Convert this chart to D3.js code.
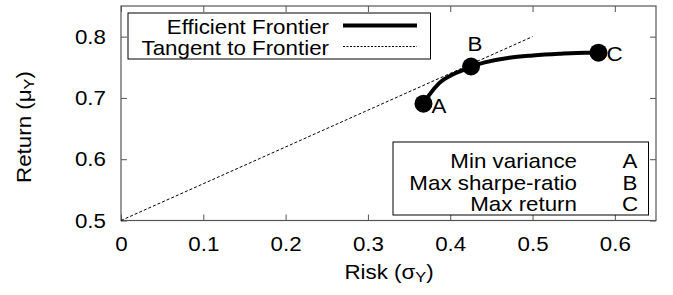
<!DOCTYPE html>
<html>
<head>
<meta charset="utf-8">
<script src="https://cdn.jsdelivr.net/npm/d3@7"></script>
<style>
  body { margin: 0; background: #fff; }
  svg { display: block; font-family: "Liberation Sans", Arial, sans-serif; }
</style>
</head>
<body>
<div id="chart"></div>
<script>
// efficient frontier
const frontierRisk = [0.3675, 0.3748, 0.3869, 0.4030, 0.4193, 0.4253, 0.4435, 0.4718, 0.5001, 0.5324, 0.5648, 0.5801];
const frontierReturn = [0.6907, 0.7054, 0.7246, 0.7382, 0.7475, 0.7513, 0.7584, 0.7656, 0.7693, 0.7721, 0.7738, 0.7738];

// tangent line ends
const tangentRisk = [0, 0.5];
const tangentReturn = [0.5, 0.8];

// marked portfolios
const pointNames = ["A", "B", "C"];
const pointRisk = [0.3675, 0.4253, 0.5801];
const pointReturn = [0.6907, 0.7513, 0.7738];
const pointDesc = ["Min variance", "Max sharpe-ratio", "Max return"];

const xTicks = [0, 0.1, 0.2, 0.3, 0.4, 0.5, 0.6];
const yTicks = [0.5, 0.6, 0.7, 0.8];

const W = 673, H = 295;
const margin = {top: 6, right: 17, bottom: 74.5, left: 121};
const width = W - margin.left - margin.right,
  height = H - margin.top - margin.bottom;
const fs = 20.5;
const sx = 1.09; // the original text is a little wider than it is tall
const frameColor = "#555";

const svg = d3.select("#chart").append("svg")
  .attr("width", W)
  .attr("height", H);

const g = svg.append("g")
  .attr("transform", "translate(" + margin.left + "," + margin.top + ")");

const x = d3.scaleLinear().domain([0, 0.65]).range([0, width]);
const y = d3.scaleLinear().domain([0.5, 0.85]).range([height, 0]);

function label(parent, px, py, str, anchor) {
  return parent.append("text")
    .attr("transform", "translate(" + px + "," + py + ") scale(" + sx + ",1)")
    .attr("text-anchor", anchor || "start")
    .style("font-size", fs + "px")
    .text(str);
}

function styleAxis(sel) {
  sel.select(".domain").remove();
  sel.selectAll(".tick line").attr("stroke", frameColor);
  sel.selectAll(".tick text").attr("fill", "#000").style("font-size", fs + "px");
}

// axes with inward ticks
g.append("g")
  .attr("transform", "translate(0," + height + ")")
  .call(d3.axisBottom(x).tickValues(xTicks).tickFormat(d3.format("~g"))
    .tickSizeInner(-6).tickSizeOuter(0).tickPadding(16))
  .call(styleAxis)
  .call(a => a.selectAll(".tick text").attr("transform", "scale(" + sx + ",1)"));

g.append("g")
  .call(d3.axisLeft(y).tickValues(yTicks).tickFormat(d3.format("~g"))
    .tickSizeInner(-6).tickSizeOuter(0).tickPadding(15))
  .call(styleAxis)
  .call(a => a.selectAll(".tick text")
    .attr("x", -15 / sx)
    .attr("transform", "scale(" + sx + ",1)"));

g.append("g")
  .call(d3.axisTop(x).tickValues(xTicks).tickFormat("")
    .tickSizeInner(-6).tickSizeOuter(0))
  .call(styleAxis);

g.append("g")
  .attr("transform", "translate(" + width + ",0)")
  .call(d3.axisRight(y).tickValues(yTicks).tickFormat("")
    .tickSizeInner(-6).tickSizeOuter(0))
  .call(styleAxis);

// frame
g.append("rect")
  .attr("width", width)
  .attr("height", height)
  .attr("fill", "none")
  .attr("stroke", frameColor)
  .attr("stroke-width", 1.2);

// tangent line
const tangent = tangentRisk.map((r, i) => [r, tangentReturn[i]]);
g.append("path")
  .datum(tangent)
  .attr("fill", "none")
  .attr("stroke", "#000")
  .attr("stroke-width", 1)
  .attr("stroke-dasharray", "3,2")
  .attr("d", d3.line().x(d => x(d[0])).y(d => y(d[1])));

// frontier
const frontier = frontierRisk.map((r, i) => [r, frontierReturn[i]]);
g.append("path")
  .datum(frontier)
  .attr("fill", "none")
  .attr("stroke", "#000")
  .attr("stroke-width", 4)
  .attr("stroke-linejoin", "round")
  .attr("d", d3.line().curve(d3.curveMonotoneX).x(d => x(d[0])).y(d => y(d[1])));

// markers and their letters
const pts = pointNames.map((n, i) => ({name: n, r: pointRisk[i], m: pointReturn[i]}));
g.selectAll(".pt")
  .data(pts)
  .enter().append("circle")
  .attr("cx", d => x(d.r))
  .attr("cy", d => y(d.m))
  .attr("r", 9)
  .attr("fill", "#000");

const labelOff = {A: [8, 9], B: [4, -15], C: [8, 8]};
pts.forEach(d => {
  label(g, x(d.r) + labelOff[d.name][0], y(d.m) + labelOff[d.name][1], d.name,
    d.name == "B" ? "middle" : "start");
});

// legend, top left
const leg = g.append("g").attr("transform", "translate(7,7)");
leg.append("rect")
  .attr("width", 302.5)
  .attr("height", 46)
  .attr("fill", "#fff")
  .attr("stroke", "#000")
  .attr("stroke-width", 1);
label(leg, 201, 20.5, "Efficient Frontier", "end");
label(leg, 201, 42, "Tangent to Frontier", "end");
leg.append("line").attr("x1", 215).attr("x2", 289).attr("y1", 12.5).attr("y2", 12.5)
  .attr("stroke", "#000").attr("stroke-width", 4);
leg.append("line").attr("x1", 215).attr("x2", 289).attr("y1", 33.5).attr("y2", 33.5)
  .attr("stroke", "#000").attr("stroke-width", 1).attr("stroke-dasharray", "2,1.5");

// key for the markers, bottom right
const key = g.append("g").attr("transform", "translate(272,136)");
key.append("rect")
  .attr("width", 255.5)
  .attr("height", 73)
  .attr("fill", "#fff")
  .attr("stroke", "#000")
  .attr("stroke-width", 1);
pointDesc.forEach((t, i) => {
  label(key, 184, 26 + i * 21.5, t, "end");
  label(key, 237, 26 + i * 21.5, pointNames[i], "middle");
});

// axis titles
const xt = label(svg, 389, 279, "", "middle");
xt.append("tspan").text("Risk (σ");
xt.append("tspan").attr("baseline-shift", "-20%").style("font-size", "15px").text("Y");
xt.append("tspan").text(")");

const yt = svg.append("text")
  .attr("transform", "translate(31,127) rotate(-90) scale(" + sx + ",1)")
  .attr("text-anchor", "middle")
  .style("font-size", fs + "px");
yt.append("tspan").text("Return (μ");
yt.append("tspan").attr("baseline-shift", "-20%").style("font-size", "15px").text("Y");
yt.append("tspan").text(")");
</script>
</body>
</html>
